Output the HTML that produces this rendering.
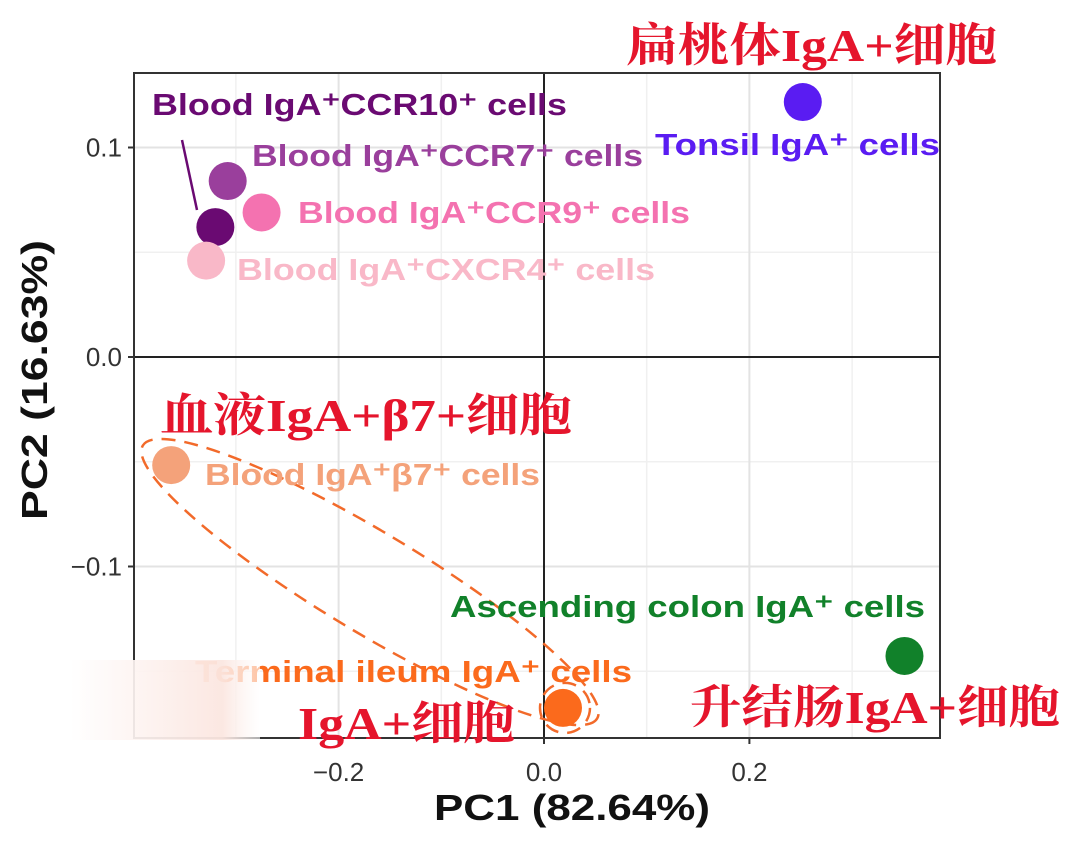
<!DOCTYPE html>
<html><head><meta charset="utf-8"><style>
body{margin:0;background:#fff;width:1080px;height:846px;overflow:hidden}
svg{display:block}
</style></head><body>
<svg id="chart" width="1080" height="846" xmlns="http://www.w3.org/2000/svg" font-family="Liberation Sans, Arial, sans-serif">
<g id="grid"></g>
<g id="marks"></g>
<g id="labels"></g>
</svg>
<script>
const names=["Blood IgA⁺CCR10⁺ cells","Blood IgA⁺CCR7⁺ cells","Blood IgA⁺CCR9⁺ cells","Blood IgA⁺CXCR4⁺ cells","Tonsil IgA⁺ cells","Blood IgA⁺β7⁺ cells","Ascending colon IgA⁺ cells","Terminal ileum IgA⁺ cells"];
const pc1=[-0.320,-0.308,-0.275,-0.329,0.252,-0.363,0.351,0.0185];
const pc2=[0.062,0.084,0.069,0.046,0.1217,-0.0516,-0.1427,-0.1675];
const xTicks=[-0.2,0.0,0.2];
const yTicks=[0.1,0.0,-0.1];
const colors=["#6a0a72","#9a3f9c","#f472b0","#f9b8c8","#5a1cf2","#f4a27a","#11812a","#fb6a1c"];
const NS="http://www.w3.org/2000/svg";
const L=134,R=940,T=73,B=738;
const X=v=>544+v*1027, Y=v=>357-v*2095;
function mk(tag,attrs,parent,text){const e=document.createElementNS(NS,tag);for(const k in attrs)e.setAttribute(k,attrs[k]);if(text!==undefined)e.textContent=text;parent.appendChild(e);return e;}
const grid=document.getElementById('grid'),marks=document.getElementById('marks'),labels=document.getElementById('labels');
mk('rect',{x:L,y:T,width:R-L,height:B-T,fill:'#fff'},grid);
[-0.3,-0.1,0.1,0.3].forEach(v=>mk('line',{x1:X(v),x2:X(v),y1:T,y2:B,stroke:'#f0f0f0','stroke-width':1.5},grid));
[0.05,-0.05,-0.15].forEach(v=>mk('line',{y1:Y(v),y2:Y(v),x1:L,x2:R,stroke:'#f0f0f0','stroke-width':1.5},grid));
xTicks.forEach(v=>{if(v!==0)mk('line',{x1:X(v),x2:X(v),y1:T,y2:B,stroke:'#e3e3e3','stroke-width':2},grid);
 const t=mk('text',{x:X(v),y:781,'text-anchor':'middle','font-size':26,fill:'#333'},grid,v.toFixed(1).replace('-','−'));
 
 mk('line',{x1:X(v),x2:X(v),y1:B,y2:B+6,stroke:'#333','stroke-width':2},grid);});
yTicks.forEach(v=>{if(v!==0)mk('line',{y1:Y(v),y2:Y(v),x1:L,x2:R,stroke:'#e3e3e3','stroke-width':2},grid);
 const t=mk('text',{x:122,y:Y(v)+9,'text-anchor':'end','font-size':26,fill:'#333'},grid,v.toFixed(1).replace('-','−'));
 
 mk('line',{y1:Y(v),y2:Y(v),x1:L-6,x2:L,stroke:'#333','stroke-width':2},grid);});
mk('line',{x1:X(0),x2:X(0),y1:T,y2:B,stroke:'#222','stroke-width':2},grid);
mk('line',{x1:L,x2:R,y1:Y(0),y2:Y(0),stroke:'#222','stroke-width':2},grid);
mk('rect',{x:L,y:T,width:R-L,height:B-T,fill:'none',stroke:'#333','stroke-width':2},grid);
const xt=mk('text',{x:572,y:820,'text-anchor':'middle','font-size':36,'font-weight':'bold',fill:'#111',textLength:276,lengthAdjust:'spacingAndGlyphs'},grid,'PC1 (82.64%)');

const yt=mk('text',{x:0,y:0,transform:'translate(47,380) rotate(-90)','text-anchor':'middle','font-size':36,'font-weight':'bold',fill:'#111',textLength:280,lengthAdjust:'spacingAndGlyphs'},grid,'PC2 (16.63%)');

const ell=mk('ellipse',{cx:370,cy:582,rx:265,ry:50,transform:'rotate(31 370 582)',fill:'none',stroke:'#f26a2a','stroke-width':2.5,'stroke-dasharray':'14 9'},marks);

mk('circle',{cx:X(pc1[7])+2,cy:Y(pc2[7]),r:25,fill:'none',stroke:'#f26a2a','stroke-width':2.5,'stroke-dasharray':'14 9'},marks);
mk('line',{x1:182,y1:140,x2:197,y2:210,stroke:'#6a0a72','stroke-width':2.5},marks);
const order=[1,2,0,3,4,5,6,7];
order.forEach(i=>{const c=mk('circle',{cx:X(pc1[i]),cy:Y(pc2[i]),r:19,fill:colors[i]},marks);
 });
const lp=[[152,115,415],[252,166,391],[298,223,392],[237,280,418],[655,155,285],[205,485,335],[450,617,475],[195,682,437]];
names.forEach((n,i)=>{const t=mk('text',{x:lp[i][0],y:lp[i][1],'font-size':31,'font-weight':'bold',fill:colors[i],textLength:lp[i][2],lengthAdjust:'spacingAndGlyphs'},labels,n);
 });
const g=mk('defs',{},labels);
const lg=mk('linearGradient',{id:'sm',x1:0,x2:1,y1:0,y2:0},g);
mk('stop',{offset:'0','stop-color':'#fff','stop-opacity':0.9},lg);mk('stop',{offset:'0.8','stop-color':'#fbe6e0','stop-opacity':0.95},lg);mk('stop',{offset:'1','stop-color':'#fff','stop-opacity':0.6},lg);
mk('rect',{x:70,y:660,width:190,height:80,fill:'url(#sm)'},labels);
const cn=[["扁桃体IgA+细胞",626,61,371],["血液IgA+β7+细胞",160,431,412],["升结肠IgA+细胞",690,723,370],["IgA+细胞",298,739,217]];
cn.forEach(c=>{const t=mk('text',{x:c[1],y:c[2],'font-size':46,'font-weight':'bold',fill:'#e5152c','font-family':'Liberation Serif, Noto Serif CJK SC, serif',textLength:c[3],lengthAdjust:'spacingAndGlyphs'},labels,c[0]);
 });
</script>
</body></html>
